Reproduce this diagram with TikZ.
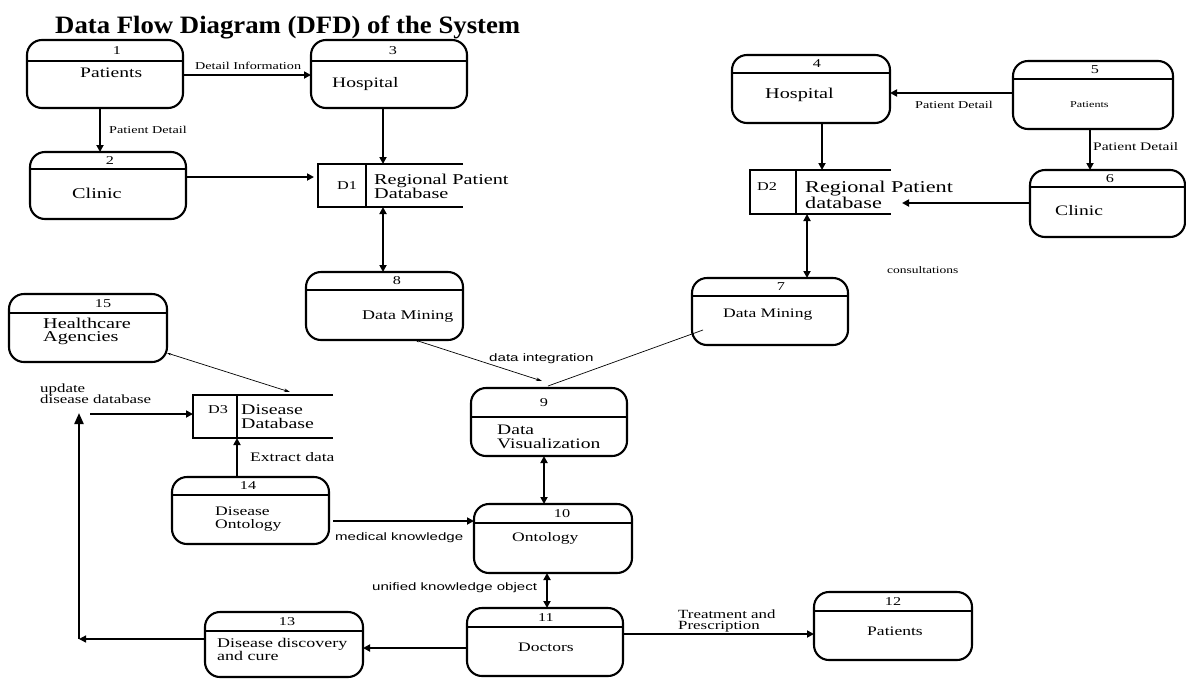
\documentclass[tikz,border=0pt]{standalone}
\usepackage{fontspec}
\setmainfont{Liberation Serif}
\newfontfamily\dfont[FakeStretch=1.35]{Liberation Serif}
\newfontfamily\dsans[FakeStretch=1.4]{Liberation Sans}
\newfontfamily\tfont[FakeStretch=1.07]{Liberation Serif}
\usetikzlibrary{arrows.meta,calc}
\newcommand\fs[2]{\fontsize{#1}{#2}\selectfont}
\tikzset{
  procbox/.style={draw, line width=2.1pt, rounded corners=15pt, inner sep=0pt, outer sep=0pt},
  divline/.style={line width=1.7pt},
  numlbl/.style={inner sep=0pt, font=\dfont\fs{12}{12}},
  lbl/.style={inner sep=0pt, anchor=west, align=left},
  storeline/.style={line width=1.5pt},
  flow/.style={line width=1.8pt, -{Triangle[length=7pt,width=7pt]}},
  bflow/.style={line width=1.8pt, {Triangle[length=7pt,width=7pt]}-{Triangle[length=7pt,width=7pt]}},
  thinflow/.style={line width=0.7pt, {Stealth[length=4pt,width=2.5pt]}-{Stealth[length=6pt,width=3.5pt]}},
  thinline/.style={line width=0.7pt},
}
\newcommand\proc[8]{%
  \node[procbox, minimum width={#4-#2}, minimum height={#5-#3}] (#1) at ({(#2+#4)/2},{(#3+#5)/2}) {};
  \draw[divline] (#1.west |- 0,#6) -- (#1.east |- 0,#6);
  \node[numlbl] (#1n) at (#7,{(#3+#6)/2}) {#8};
}
\newcommand\store[6]{%
  \node[inner sep=0pt, outer sep=0pt, minimum width={#4-#2}, minimum height={#5-#3}] (#1) at ({(#2+#4)/2},{(#3+#5)/2}) {};
  \draw[storeline] (#1.north east) -- (#1.north west) -- (#1.south west) -- (#1.south east);
  \draw[storeline] (#1.north -| #6,0) -- (#1.south -| #6,0);
}
\begin{document}
\begin{tikzpicture}[x=1pt, y=-1pt]
\path[fill=white, use as bounding box] (0,0) rectangle (1186,678);

\node[anchor=base west, inner sep=0pt, font=\tfont\bfseries\fs{25}{30}] (title) at (55,33.5) {Data Flow Diagram (DFD) of the System};

% process boxes
\proc{b1}{27}{40}{183}{108}{61}{117}{1}
\proc{b2}{30}{152}{186}{219}{169}{110}{2}
\proc{b3}{311}{40}{467}{108}{61}{393}{3}
\proc{b4}{732}{55}{890}{123}{73}{817}{4}
\proc{b5}{1013}{61}{1173}{129}{79}{1095}{5}
\proc{b6}{1030}{170}{1185}{237}{187}{1110}{6}
\proc{b7}{692}{278}{848}{345}{296}{781}{7}
\proc{b8}{306}{272}{463}{340}{290}{397}{8}
\proc{b9}{471}{388}{627}{456}{417}{544}{9}
\proc{b10}{474}{504}{632}{573}{523}{562}{10}
\proc{b11}{467}{608}{623}{676}{627}{546}{11}
\proc{b12}{814}{592}{972}{660}{611}{893}{12}
\proc{b13}{205}{612}{363}{677}{631}{287}{13}
\proc{b14}{172}{477}{329}{544}{495}{248}{14}
\proc{b15}{9}{294}{167}{362}{313}{103}{15}

% box labels
\node[lbl, font=\dfont\fs{14.5}{15}] (t1) at (80,73) {Patients};
\node[lbl, font=\dfont\fs{15}{15}] (t2) at (72,193) {Clinic};
\node[lbl, font=\dfont\fs{14.5}{15}] (t3) at (332,84) {Hospital};
\node[lbl, font=\dfont\fs{15}{15}] (t4) at (765,95) {Hospital};
\node[lbl, font=\dfont\fs{9}{10}] (t5) at (1070,105) {Patients};
\node[lbl, font=\dfont\fs{14.5}{15}] (t6) at (1055,211) {Clinic};
\node[lbl, font=\dfont\fs{13}{13}] (t7) at (723,315) {Data Mining};
\node[lbl, font=\dfont\fs{13.3}{13}] (t8) at (362,317) {Data Mining};
\node[lbl, font=\dfont\fs{14.5}{13.5}] (t9) at (497,437) {Data\\Visualization};
\node[lbl, font=\dfont\fs{13}{13}] (t10) at (512,538) {Ontology};
\node[lbl, font=\dfont\fs{13}{13}] (t11) at (518,647) {Doctors};
\node[lbl, font=\dfont\fs{13}{13}] (t12) at (867,631) {Patients};
\node[lbl, font=\dfont\fs{13.3}{11.5}] (t13) at (217,649.5) {Disease discovery\\and cure};
\node[lbl, font=\dfont\fs{13}{12.5}] (t14) at (215,519) {Disease\\Ontology};
\node[lbl, font=\dfont\fs{15}{13.5}] (t15) at (43,331.5) {Healthcare\\Agencies};

% data stores
\store{d1}{318}{164}{463}{207}{366}
\node[lbl, font=\dfont\fs{12}{12}] (d1n) at (337,186) {D1};
\node[lbl, font=\dfont\fs{15}{13.5}] (d1t) at (374,186.5) {Regional Patient\\Database};
\store{d2}{750}{170}{891}{214}{796}
\node[lbl, font=\dfont\fs{16.5}{15}] (d2n) at (757,187) {\fs{12}{12}D2};
\node[lbl, font=\dfont\fs{16.5}{15}] (d2t) at (805,194.5) {Regional Patient\\database};
\store{d3}{193}{395}{333}{438}{237}
\node[lbl, font=\dfont\fs{12}{12}] (d3n) at (208,410) {D3};
\node[lbl, font=\dfont\fs{14.7}{13.5}] (d3t) at (241,416.5) {Disease\\Database};

% flows
\draw[flow] (b1.east |- 0,75) -- (b3.west |- 0,75);
\draw[flow] (b1.south -| 100,0) -- (b2.north -| 100,0);
\draw[flow, shorten >=4pt] (b2.east |- 0,177) -- (d1.west |- 0,177);
\draw[flow] (b3.south -| 383,0) -- (d1.north -| 383,0);
\draw[bflow] (d1.south -| 383,0) -- (b8.north -| 383,0);
\draw[flow] (b4.south -| 822,0) -- (d2.north -| 822,0);
\draw[flow] (b5.west |- 0,93) -- (b4.east |- 0,93);
\draw[flow] (b5.south -| 1090,0) -- (b6.north -| 1090,0);
\draw[flow, shorten >=11pt] (b6.west |- 0,203) -- (d2.east |- 0,203);
\draw[bflow] (d2.south -| 807,0) -- (b7.north -| 807,0);
\draw[thinflow] (b8.south -| 415,0) -- ($(b9.north -| 542,0)+(0,-7)$);
\draw[thinline] ($(b7.south west)+(11,-15)$) -- ($(b9.north -| 548,0)+(0,-2)$);
\draw[thinflow] ($(b15.south east)+(0,-9)$) -- ($(d3.north -| 290,0)+(0,-3)$);
\coordinate (upd) at (90,414);
\draw[flow] (upd) -- (d3.west |- upd);
\draw[flow] (b14.north -| 237,0) -- (d3.south -| 237,0);
\draw[flow, shorten <=4pt] (b14.east |- 0,521) -- (b10.west |- 0,521);
\draw[bflow] (b9.south -| 544,0) -- (b10.north -| 544,0);
\draw[bflow] (b10.south -| 547,0) -- (b11.north -| 547,0);
\draw[flow] (b11.east |- 0,634) -- (b12.west |- 0,634);
\draw[flow] (b11.west |- 0,648) -- (b13.east |- 0,648);
\coordinate (lc) at (79,639);
\coordinate (lt) at (79,413);
\draw[flow, line width=1.3pt] (b13.west |- lc) -- (lc);
\draw[line width=2.2pt, -{Triangle[length=11pt,width=9pt]}] (lc) -- (lt);

% flow labels
\node[lbl, font=\dfont\fs{10.5}{11}] (f1) at (195,66) {Detail Information};
\node[lbl, font=\dfont\fs{10.5}{11}] (f2) at (109,130) {Patient Detail};
\node[lbl, font=\dfont\fs{10.5}{11}] (f3) at (915,105) {Patient Detail};
\node[lbl, font=\dfont\fs{11.5}{12}] (f4) at (1093,147) {Patient Detail};
\node[lbl, font=\dfont\fs{10}{11}] (f5) at (887,270) {consultations};
\node[lbl, font=\dsans\fs{10.8}{11}] (f6) at (489,359) {data integration};
\node[lbl, font=\dfont\fs{12.5}{11.5}] (f7) at (40,393.5) {update\\disease database};
\node[lbl, font=\dfont\fs{13}{13}] (f8) at (250,457) {Extract data};
\node[lbl, font=\dsans\fs{10.75}{11}] (f9) at (335,538) {medical knowledge};
\node[lbl, font=\dsans\fs{10.75}{11}] (f10) at (372,588) {unified knowledge object};
\node[lbl, font=\dfont\fs{12.5}{11}] (f11) at (678,621) {Treatment and\\Prescription};
\end{tikzpicture}
\end{document}
